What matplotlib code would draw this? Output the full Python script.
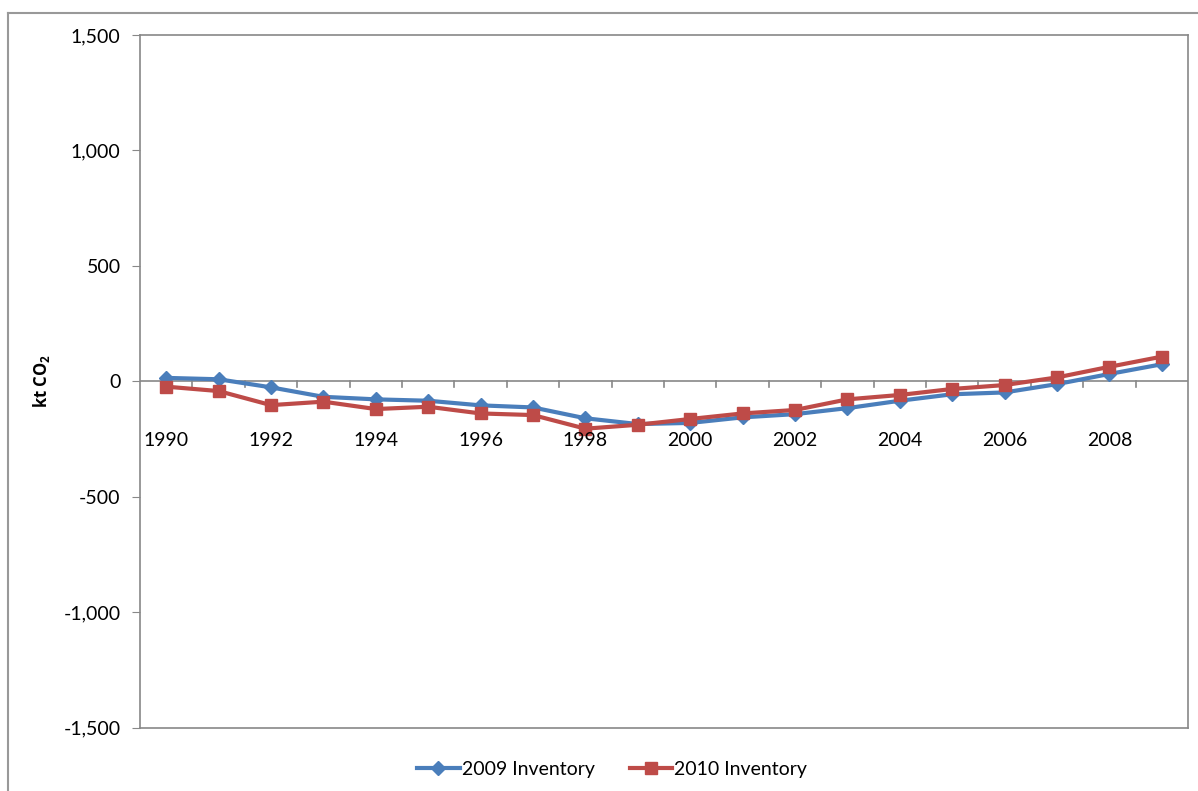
import matplotlib
matplotlib.use("Agg")
import matplotlib.pyplot as plt
from matplotlib.lines import Line2D
import numpy as np

years = list(range(1990, 2010))
inv_2009 = [15, 9, -26, -67, -78, -84, -104, -113, -160, -185,
            -180, -156, -142, -116, -84, -56, -48, -12, 32, 74]
inv_2010 = [-23, -42, -103, -88, -120, -110, -139, -146, -205, -188,
            -163, -139, -124, -78, -59, -33, -16, 17, 63, 107]
y_ticks = [-1500, -1000, -500, 0, 500, 1000, 1500]

plt.rcParams['font.family'] = ['Lato', 'DejaVu Sans']
plt.rcParams['mathtext.default'] = 'regular'

fig = plt.figure(figsize=(11.98, 7.91), dpi=100)
W, H = 1198, 791
ax = fig.add_axes([140 / W, 1 - 727.7 / H, (1188 - 140) / W, (727.7 - 35) / H])

blue = '#4A7EBB'
red = '#BE4B48'
x = np.arange(len(years))
ax.plot(x, inv_2009, color=blue, lw=3, marker='D', ms=7, label='2009 Inventory', zorder=3)
ax.plot(x, inv_2010, color=red, lw=3, marker='s', ms=9, label='2010 Inventory', zorder=4)

ax.set_xlim(-0.5, len(years) - 0.5)
ax.set_ylim(-1500, 1500)
ax.set_yticks(y_ticks)
ax.set_yticklabels([f"{v:,}" for v in y_ticks], fontsize=14)
ax.tick_params(axis='y', direction='out', length=6, color='#888888', pad=8)
ax.set_xticks([])
for s in ax.spines.values():
    s.set_color('#888888')
    s.set_linewidth(1.2)

# category axis crossing at zero
ax.axhline(0, color='#888888', lw=1.2, zorder=1)
for b in np.arange(0.5, len(years) - 0.5, 1.0):
    ax.plot([b, b], [0, -25], color='#888888', lw=1.2, zorder=1)
for i, yr in enumerate(years):
    if yr % 2 == 0:
        ax.text(i, -255, str(yr), ha='center', va='center', fontsize=14, zorder=5)

ax.set_ylabel(r'kt CO$_2$', fontsize=12, fontweight='bold', family=['Open Sans', 'DejaVu Sans'])
ax.yaxis.set_label_coords(-88 / (1188 - 140), 0.5)

fig.legend(loc='center', bbox_to_anchor=(612 / W, 1 - 769 / H), ncol=2, frameon=False,
           fontsize=14, handlelength=2.2, columnspacing=1.8, handletextpad=0.1)

# outer chart border
fig.add_artist(Line2D([8 / W, 8 / W], [0, 1 - 13 / H], color='#999999', lw=1.5))
fig.add_artist(Line2D([8 / W, 1], [1 - 13 / H, 1 - 13 / H], color='#999999', lw=1.5))

fig.savefig('out.png', dpi=100)
